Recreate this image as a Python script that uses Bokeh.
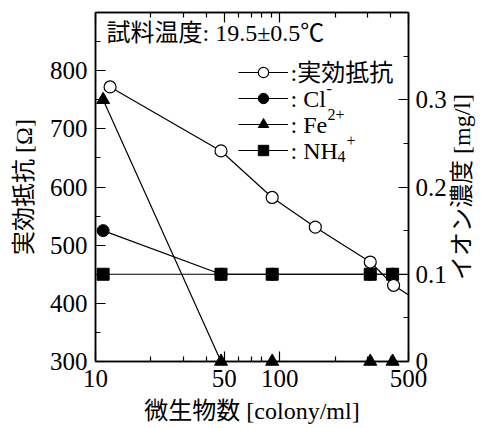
import math
from bokeh.plotting import figure
from bokeh.models import (Range1d, LinearAxis, LogAxis, FixedTicker, PrintfTickFormatter,
                          CustomJSTickFormatter, Legend, LegendItem, Label)
from bokeh.embed import file_html
from bokeh.resources import INLINE

SERIF = "Liberation Serif, Noto Sans CJK JP"

# ---- data ----
res_x = [12, 48, 91, 156, 310, 415, 600]
res_y = [772, 662, 582, 531, 471, 431, 398]          # 実効抵抗 [Ω]

ion_x = [11, 48, 91, 310, 410]
cl_y = [0.15, 0.10, 0.10, 0.10, 0.10]                 # Cl-  [mg/l]
fe_y = [0.30, 0.00, 0.00, 0.00, 0.00]                 # Fe2+ [mg/l]
nh4_x = [11, 48, 91, 310, 410, 600]
nh4_y = [0.10, 0.10, 0.10, 0.10, 0.10, 0.10]          # NH4+ [mg/l]

x_ticks = [10, 50, 100, 500]
x_minor = [20, 30, 40, 60, 70, 80, 90, 200, 300, 400]
left_ticks = [300, 400, 500, 600, 700, 800]
left_minor = [350, 450, 550, 650, 750, 850]
right_ticks = [0, 0.1, 0.2, 0.3]
right_minor = [0.05, 0.15, 0.25, 0.35]

legend_names = [":実効抵抗", ": Cl", ": Fe", ": NH"]
title_text = "試料温度: 19.5±0.5℃"
x_title = "微生物数 [colony/ml]"
y_title = "実効抵抗 [Ω]"
y2_title = "イオン濃度 [mg/l]"

X0, X1 = 10, 500
Y0, Y1 = 300, 900
W, H = 484, 428
BL, BR, BT, BB = 95, 76, 12, 67
FW, FH = W - BL - BR, H - BT - BB

p = figure(width=W, height=H, x_axis_type="log",
           x_range=Range1d(X0, X1), y_range=Range1d(Y0, Y1),
           output_backend="svg", toolbar_location=None,
           min_border_left=BL, min_border_right=BR, min_border_top=BT, min_border_bottom=BB)
p.title.visible = False
p.extra_y_ranges = {"ion": Range1d(0, 0.4)}
p.grid.visible = False
p.outline_line_color = "black"
p.outline_line_width = 1.5
p.background_fill_color = "white"
p.border_fill_color = "white"


# helpers to place annotations at a given pixel position of the canvas
def ax_x(px):
    return 10 ** (math.log10(X0) + (px - BL) / FW * (math.log10(X1) - math.log10(X0)))


def ax_y(py):
    return Y0 + (BT + FH - py) / FH * (Y1 - Y0)


def style_axis(ax):
    ax.axis_line_color = "black"
    ax.axis_line_width = 1.5
    ax.major_tick_in = 10
    ax.major_tick_out = 0
    ax.minor_tick_in = 5
    ax.minor_tick_out = 0
    ax.major_tick_line_color = "black"
    ax.major_tick_line_width = 1.2
    ax.minor_tick_line_color = "black"
    ax.minor_tick_line_width = 1.2
    ax.major_label_text_font = SERIF
    ax.major_label_text_font_size = "25px"
    ax.major_label_text_color = "black"
    ax.axis_label_text_font = SERIF
    ax.axis_label_text_font_size = "24px"
    ax.axis_label_text_font_style = "normal"
    ax.axis_label_text_color = "black"


xa = p.xaxis[0]
style_axis(xa)
xa.ticker = FixedTicker(ticks=x_ticks, minor_ticks=x_minor)
xa.formatter = PrintfTickFormatter(format="%d")
xa.axis_label = x_title
xa.major_label_standoff = 8
xa.axis_label_standoff = 8

ya = p.yaxis[0]
style_axis(ya)
ya.ticker = FixedTicker(ticks=left_ticks, minor_ticks=left_minor)
ya.axis_label = y_title
ya.major_label_standoff = 8
ya.axis_label_standoff = 10

top = LogAxis(ticker=FixedTicker(ticks=x_ticks, minor_ticks=x_minor))
style_axis(top)
top.major_label_text_font_size = "0px"
top.major_label_standoff = 0
p.add_layout(top, "above")

right = LinearAxis(y_range_name="ion",
                   ticker=FixedTicker(ticks=right_ticks, minor_ticks=right_minor),
                   formatter=CustomJSTickFormatter(code="return tick == 0 ? '0' : tick.toFixed(1)"))
style_axis(right)
right.major_label_standoff = 7
p.add_layout(right, "right")

LW = 1.2
fe_l = p.line(ion_x, fe_y, y_range_name="ion", line_color="black", line_width=LW)
fe_m = p.scatter(ion_x, fe_y, y_range_name="ion", marker="triangle", size=13,
                 fill_color="black", line_color="black", level="overlay")
cl_l = p.line(ion_x, cl_y, y_range_name="ion", line_color="black", line_width=LW)
cl_m = p.scatter(ion_x, cl_y, y_range_name="ion", marker="circle", size=12,
                 fill_color="black", line_color="black")
nh_l = p.line(nh4_x, nh4_y, y_range_name="ion", line_color="black", line_width=LW)
nh_m = p.scatter(nh4_x, nh4_y, y_range_name="ion", marker="square", size=12,
                 fill_color="black", line_color="black")
rs_l = p.line(res_x, res_y, line_color="black", line_width=LW)
rs_m = p.scatter(res_x, res_y, marker="circle", size=12, fill_color="white",
                 line_color="black", line_width=LW)

# legend samples (line + marker), texts added as labels below
ROW = 26
LEG_LEFT, LEG_TOP = 238, 59
legend = Legend(items=[
    LegendItem(label=" ", renderers=[rs_l, rs_m]),
    LegendItem(label=" ", renderers=[cl_l, cl_m]),
    LegendItem(label=" ", renderers=[fe_l, fe_m]),
    LegendItem(label=" ", renderers=[nh_l, nh_m]),
], location=(LEG_LEFT - BL, BT + FH - (LEG_TOP + 4 * ROW)),
    glyph_width=50, glyph_height=ROW, label_height=ROW, label_width=5,
    spacing=0, padding=0, margin=0, label_standoff=0,
    border_line_color=None, background_fill_alpha=0,
    label_text_font=SERIF, label_text_font_size="8px", label_text_color="black")
p.add_layout(legend)

TXT = dict(text_font=SERIF, text_color="black")
row_c = [LEG_TOP + ROW / 2 + i * ROW for i in range(4)]
tx = LEG_LEFT + 52
for name, cy in zip(legend_names, row_c):
    p.add_layout(Label(x=ax_x(tx), y=ax_y(cy), text=name, text_baseline="middle",
                       text_font_size="24px", **TXT))
# super/subscripts
p.add_layout(Label(x=ax_x(326), y=ax_y(row_c[1] - 10), text="-", text_baseline="middle",
                   text_font_size="16px", **TXT))
p.add_layout(Label(x=ax_x(327), y=ax_y(row_c[2] - 10), text="2+", text_baseline="middle",
                   text_font_size="16px", **TXT))
p.add_layout(Label(x=ax_x(337), y=ax_y(row_c[3] + 6), text="4", text_baseline="middle",
                   text_font_size="16px", **TXT))
p.add_layout(Label(x=ax_x(346), y=ax_y(row_c[3] - 10), text="+", text_baseline="middle",
                   text_font_size="16px", **TXT))

# title inside the frame
p.add_layout(Label(x=ax_x(106), y=ax_y(32), text=title_text, text_baseline="middle",
                   text_font_size="24px", **TXT))

# right axis title, reading bottom-to-top, placed in the right side panel
p.add_layout(Label(x=ax_x(461), y=ax_y(186.5), text=y2_title, text_align="center",
                   text_baseline="middle", angle=math.pi / 2, text_font_size="24px", **TXT),
             "right")

open("out.html", "w").write(file_html(p, INLINE))
